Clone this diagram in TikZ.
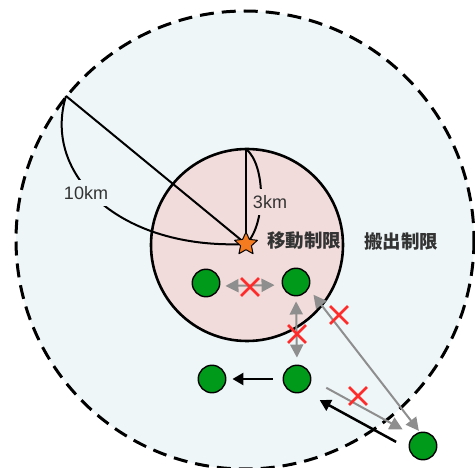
\documentclass[tikz,border=0pt]{standalone}
\usepackage{fontspec}
\setmainfont{Liberation Sans}
\newfontfamily\jpfont{Noto Sans CJK JP}
\usetikzlibrary{arrows.meta,calc,shapes.geometric,shapes.misc}
\definecolor{zonesky}{HTML}{EEF6F8}
\definecolor{zonepink}{HTML}{F2DCDB}
\definecolor{farmgreen}{HTML}{009A1A}
\definecolor{starorange}{HTML}{F47B20}
\definecolor{movegray}{HTML}{8E8E8E}
\definecolor{banred}{HTML}{FF2A2A}
\tikzset{
  zone map/.style={
    x=1pt,
    y=-1pt,
    line join=round
  },
  zone label/.style={
    font=\fontsize{18}{20}\selectfont,
    text=black!80,
    inner sep=1pt
  },
  zone title/.style={
    font=\jpfont\bfseries\fontsize{18.5}{20}\selectfont,
    text=black!80,
    inner sep=0pt
  },
  zone farm/.style={
    circle,
    draw=black,
    line width=1.4pt,
    fill=farmgreen,
    minimum size=27.5pt,
    inner sep=0pt
  },
  zone star/.style={
    star,
    star points=5,
    star point ratio=2.1,
    draw=black,
    line width=1pt,
    fill=starorange,
    minimum size=24pt,
    inner sep=0pt
  },
  zone move/.style={
    draw=movegray,
    line width=2pt,
    >={Triangle[length=13pt,width=13pt]}
  },
  zone ship/.style={
    draw=black,
    line width=2.5pt,
    >={Triangle[length=11pt,width=12pt]}
  },
  zone ban/.style={
    cross out,
    draw=banred,
    line width=2.8pt,
    minimum size=15pt,
    inner sep=0pt
  }
}
\begin{document}
\begin{tikzpicture}[zone map]
  \useasboundingbox (0,0) rectangle (475,468);

  \coordinate (o10) at (245,240);
  \coordinate (o3) at (247,245);
  \coordinate (epi) at (246,244);
  \coordinate (rim) at (66,96);
  \coordinate (top3) at (246,149);

  \fill[zonesky] (o10) circle[radius=229];
  \draw[line width=3pt,dash pattern=on 14pt off 8pt] (o10) circle[radius=229];
  \filldraw[fill=zonepink,line width=2.6pt] (o3) circle[radius=96];

  \draw[line width=2pt] (epi) -- (rim);
  \draw[line width=2pt] (epi) -- (top3);
  \draw[line width=2pt] (rim) .. controls (42,175) and (120,250) .. (epi);
  \draw[line width=2pt] (top3) .. controls (266,165) and (266,225) .. (epi);

  \node[zone label,fill=zonesky,inner ysep=6pt] (km10) at (86,193) {10km};
  \node[zone label,fill=zonepink,inner ysep=6pt] (km3) at (270,202) {3km};
  \node[zone star] (star) at (epi) {};

  \node[zone title] (move) at (304,241) {移動制限};
  \node[zone title] (ship) at (401,241) {搬出制限};

  \node[zone farm] (f1) at (206,283) {};
  \node[zone farm] (f2) at (296,282) {};
  \node[zone farm] (f3) at (212,379) {};
  \node[zone farm] (f4) at (297,379) {};
  \node[zone farm] (f5) at (423,446) {};

  \draw[zone move,<->,shorten <=5pt,shorten >=7pt] ([yshift=-3pt]f1.east) -- ([yshift=-3pt]f2.west);
  \draw[zone move,<->,shorten <=5pt,shorten >=7pt] (f2.south) -- (f4.north);
  \draw[zone move,<->] ($(f2)!0.10!(f5)!6pt!90:(f5)$) -- ($(f2)!0.93!(f5)!6pt!90:(f5)$);
  \draw[zone move,->] ($(f4)!0.21!(f5)!6pt!90:(f5)$) -- ($(f4)!0.82!(f5)!5pt!90:(f5)$);
  \draw[zone ship,->] ($(f5)!0.18!(f4)!9pt!90:(f4)$) -- ($(f5)!0.79!(f4)!8pt!90:(f4)$);
  \draw[zone ship,->,shorten <=10pt,shorten >=6pt] (f4) -- (f3);

  \node[zone ban] (x1) at (250,287) {};
  \node[zone ban] (x2) at (297,334) {};
  \node[zone ban] (x3) at (339,315) {};
  \node[zone ban] (x4) at (358,396) {};

\end{tikzpicture}
\end{document}
